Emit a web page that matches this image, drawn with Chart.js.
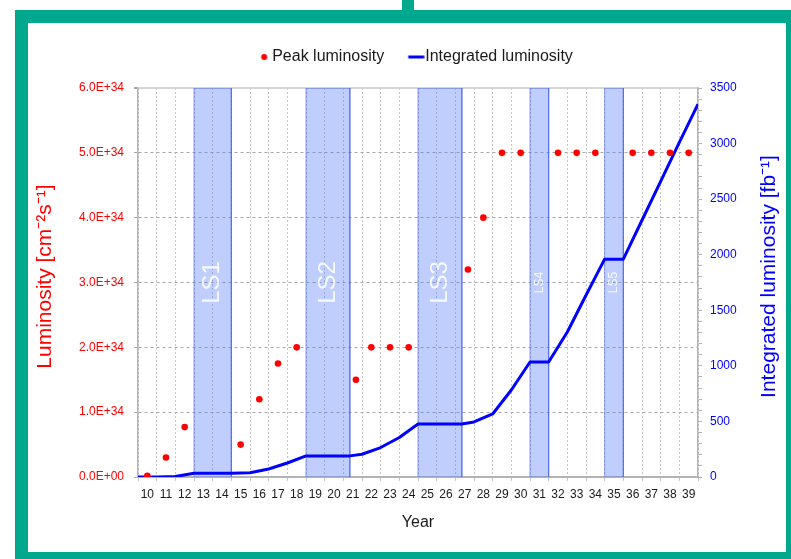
<!DOCTYPE html>
<html>
<head>
<meta charset="utf-8">
<title>LHC luminosity</title>
<script src="https://cdn.jsdelivr.net/npm/chart.js@4.4.1/dist/chart.umd.min.js"></script>
<style>
  html, body { margin: 0; padding: 0; background: #ffffff; }
  body { width: 791px; height: 559px; position: relative; overflow: hidden; }
  #frame { position: absolute; left: 15px; top: 10px; width: 776px; height: 549px; background: #00a98e; }
  #tab { position: absolute; left: 402px; top: 0; width: 12px; height: 10px; background: #00a98e; }
  #panel { position: absolute; left: 28px; top: 23px; width: 758px; height: 529px; background: #ffffff; }
  canvas { display: block; }
</style>
</head>
<body>
<div id="frame"></div>
<div id="tab"></div>
<div id="panel"><canvas id="lumi" width="758" height="529"></canvas></div>
<script>
// ---- data -------------------------------------------------------------
// Years 2010 ... 2039 (shown as two digits on the axis)
const years = [10, 11, 12, 13, 14, 15, 16, 17, 18, 19, 20, 21, 22, 23, 24,
               25, 26, 27, 28, 29, 30, 31, 32, 33, 34, 35, 36, 37, 38, 39];

// Peak luminosity per year [cm^-2 s^-1]; null = no beam (long shutdown)
const peakLuminosity = [0.02e34, 0.30e34, 0.77e34, null, null, 0.50e34, 1.20e34, 1.75e34, 2.00e34, null,
                        null, 1.50e34, 2.00e34, 2.00e34, 2.00e34, null, null, 3.20e34, 4.00e34, 5.00e34,
                        5.00e34, null, 5.00e34, 5.00e34, 5.00e34, null, 5.00e34, 5.00e34, 5.00e34, 5.00e34];

// Integrated luminosity [fb^-1] at the given time (in years, 10 = start of 2010)
const integratedTime = [10, 11, 12, 13, 15, 16, 17, 18, 19, 21.35, 22, 23, 24, 25,
                        27.35, 28, 29, 30, 31, 32, 33, 34, 35, 36, 37, 38, 39, 40];
const integratedLuminosity = [0, 1, 5, 33, 33, 38, 72, 126, 190, 190, 205, 265, 355, 477,
                              477, 495, 567, 783, 1035, 1035, 1305, 1635, 1960, 1960, 2310, 2660, 3010, 3355];

// Long shutdowns (start / end time in years)
const shutdownNames = ['LS1', 'LS2', 'LS3', 'LS4', 'LS5'];
const shutdownStart = [13, 19, 25, 31, 35];
const shutdownEnd   = [15, 21.35, 27.35, 32, 36];

// Axis ticks
const peakTicks = [0, 1e34, 2e34, 3e34, 4e34, 5e34, 6e34];
const integratedMax = 3500;
const integratedMinorStep = 100;
const integratedLabelStep = 500;

// Axis titles
const peakTitle = 'Luminosity [cm⁻²s⁻¹]';
const integratedTitle = 'Integrated luminosity [fb⁻¹]';

// ---- layout & style ---------------------------------------------------
const CANVAS_W = 758, CANVAS_H = 529;
const PAD_LEFT = 6;
const LEFT_W = 104, RIGHT_W = 88, X_AXIS_H = 75;
const LEGEND_TOP = 10, LEGEND_H = 55;
const TITLE_SIZE = 21, TITLE_INSET = 17, TITLE_RAISE = 6;
const FONT = "'Liberation Sans', Arial, sans-serif";
const INK = '#1a1a1a';
const RED = '#ff0000';
const BLUE = '#0000ff';
const AXIS_GREY = '#b3b3b3';

Chart.defaults.font.family = FONT;

const tMin = years[0];
const tMax = years[years.length - 1] + 1;
const halfYearPx = (CANVAS_W - PAD_LEFT - LEFT_W - RIGHT_W) / years.length / 2;

// mid point of the running part of a year (skips the shutdown part)
function runMidpoint(year) {
  let from = year, to = year + 1;
  shutdownStart.forEach((s, i) => {
    const e = shutdownEnd[i];
    if (e > from && e < to) from = e;
    if (s > from && s < to) to = s;
  });
  return (from + to) / 2;
}

const peakPoints = [];
years.forEach((y, i) => {
  if (peakLuminosity[i] !== null) peakPoints.push({ x: runMidpoint(y), y: peakLuminosity[i] });
});
const integratedPoints = integratedTime.map((t, i) => ({ x: t, y: integratedLuminosity[i] }));

const integratedTicks = [];
for (let v = 0; v <= integratedMax; v += integratedMinorStep) integratedTicks.push(v);

// legend markers
function legendMarker(draw) {
  const c = document.createElement('canvas');
  c.width = 32; c.height = 10;
  draw(c.getContext('2d'));
  return c;
}
const markers = {
  'Peak luminosity': legendMarker(g => {
    g.fillStyle = RED; g.beginPath(); g.arc(24.5, 5, 3, 0, Math.PI * 2); g.fill();
  }),
  'Integrated luminosity': legendMarker(g => {
    g.strokeStyle = BLUE; g.lineWidth = 3; g.beginPath(); g.moveTo(15.5, 5); g.lineTo(31.5, 5); g.stroke();
  })
};

const shutdownDatasets = shutdownNames.map((name, i) => ({
  type: 'line',
  label: name,
  yAxisID: 'y2',
  order: 3,
  data: [
    { x: shutdownStart[i], y: 0 },
    { x: shutdownStart[i], y: integratedMax },
    { x: shutdownEnd[i], y: integratedMax },
    { x: shutdownEnd[i], y: 0 }
  ],
  borderColor: 'rgba(70, 100, 235, 0.6)',
  borderWidth: 1,
  backgroundColor: 'rgba(90, 125, 250, 0.38)',
  fill: 'origin',
  pointRadius: 0,
  tension: 0
}));

function drawVerticalText(ctx, text, x, y, size, color) {
  ctx.save();
  ctx.translate(x, y);
  ctx.rotate(-Math.PI / 2);
  ctx.font = size + 'px ' + FONT;
  ctx.fillStyle = color;
  ctx.textAlign = 'center';
  ctx.textBaseline = 'middle';
  ctx.fillText(text, 0, 0);
  ctx.restore();
}

// shutdown names and the two vertical axis titles
const annotations = {
  id: 'annotations',
  beforeLayout(chart) {
    const lg = chart.legend;
    if (lg && !lg._fixedHeight) {
      const fit = lg.fit;
      lg.fit = function () { fit.call(this); this.height = LEGEND_H; };
      lg._fixedHeight = true;
    }
  },
  afterDatasetsDraw(chart) {
    const { ctx, chartArea, scales } = chart;
    const yc = (chartArea.top + chartArea.bottom) / 2;
    shutdownNames.forEach((name, i) => {
      const xc = scales.x.getPixelForValue((shutdownStart[i] + shutdownEnd[i]) / 2);
      const size = shutdownEnd[i] - shutdownStart[i] >= 2 ? 24 : 12;
      drawVerticalText(ctx, name, xc, yc, size, 'rgba(255, 255, 255, 0.88)');
    });
  },
  afterDraw(chart) {
    const { ctx, chartArea, width } = chart;
    const yc = (chartArea.top + chartArea.bottom) / 2 - TITLE_RAISE;
    drawVerticalText(ctx, peakTitle, TITLE_INSET, yc, TITLE_SIZE, RED);
    drawVerticalText(ctx, integratedTitle, width - TITLE_INSET, yc, TITLE_SIZE, BLUE);
  }
};

new Chart(document.getElementById('lumi'), {
  type: 'line',
  data: {
    datasets: [
      {
        type: 'line',
        label: 'Peak luminosity',
        yAxisID: 'y',
        order: 0,
        showLine: false,
        data: peakPoints,
        pointRadius: 3.3,
        pointBorderWidth: 0,
        pointBackgroundColor: RED,
        backgroundColor: RED,
        borderColor: RED
      },
      {
        type: 'line',
        label: 'Integrated luminosity',
        yAxisID: 'y2',
        order: 1,
        data: integratedPoints,
        borderColor: BLUE,
        backgroundColor: BLUE,
        borderWidth: 3,
        borderJoinStyle: 'round',
        pointRadius: 0,
        tension: 0,
        fill: false
      },
      ...shutdownDatasets
    ]
  },
  options: {
    responsive: false,
    animation: false,
    devicePixelRatio: 1,
    events: [],
    layout: { padding: { top: LEGEND_TOP, left: PAD_LEFT, right: 0, bottom: 0 } },
    plugins: {
      tooltip: { enabled: false },
      legend: {
        position: 'top',
        align: 'center',
        labels: {
          usePointStyle: true,
          pointStyleWidth: 17,
          padding: 16,
          color: INK,
          font: { size: 16 },
          generateLabels(chart) {
            const items = Chart.defaults.plugins.legend.labels.generateLabels(chart);
            return items
              .filter(it => markers[it.text])
              .map(it => Object.assign(it, { pointStyle: markers[it.text] }));
          }
        }
      }
    },
    scales: {
      x: {
        type: 'linear',
        position: 'bottom',
        min: tMin,
        max: tMax,
        afterFit(s) { s.height = X_AXIS_H; },
        afterBuildTicks(s) { s.ticks = years.concat([tMax]).map(v => ({ value: v })); },
        ticks: {
          autoSkip: false,
          minRotation: 0,
          maxRotation: 0,
          labelOffset: halfYearPx,
          padding: 6,
          color: INK,
          font: { size: 12 },
          callback: v => (years.includes(v) ? String(v) : '')
        },
        grid: { color: '#c6c6c6', tickColor: '#c6c6c6', tickLength: 4, lineWidth: 1 },
        border: { color: AXIS_GREY, width: 1.5, dash: [2, 2] },
        title: {
          display: true,
          text: 'Year',
          color: INK,
          font: { size: 16 },
          padding: { top: 0, bottom: 20 }
        }
      },
      y: {
        type: 'linear',
        position: 'left',
        min: peakTicks[0],
        max: peakTicks[peakTicks.length - 1],
        afterFit(s) { s.width = LEFT_W; },
        afterBuildTicks(s) { s.ticks = peakTicks.map(v => ({ value: v })); },
        ticks: {
          color: RED,
          font: { size: 12 },
          padding: 10,
          callback: v => (v === 0 ? '0.0E+00' : v.toExponential(1).toUpperCase())
        },
        grid: {
          color: c => (c.tick && c.tick.value === peakTicks[peakTicks.length - 1] ? '#d6d6d6'
                      : c.tick && c.tick.value === 0 ? AXIS_GREY : '#a6a6a6'),
          lineWidth: c => (c.tick && c.tick.value === peakTicks[peakTicks.length - 1] ? 2 : 1),
          tickColor: '#a6a6a6',
          tickLength: 4
        },
        border: {
          color: AXIS_GREY,
          width: 1.5,
          dash: c => (c.tick && c.tick.value > 0 && c.tick.value < peakTicks[peakTicks.length - 1] ? [3, 3] : [])
        }
      },
      y2: {
        type: 'linear',
        position: 'right',
        min: 0,
        max: integratedMax,
        afterFit(s) { s.width = RIGHT_W; },
        afterBuildTicks(s) { s.ticks = integratedTicks.map(v => ({ value: v })); },
        ticks: {
          autoSkip: false,
          color: BLUE,
          font: { size: 12 },
          padding: 8,
          callback: v => (v % integratedLabelStep === 0 ? String(v) : '')
        },
        grid: { drawOnChartArea: false, color: AXIS_GREY, tickColor: AXIS_GREY, tickLength: 4 },
        border: { color: AXIS_GREY, width: 1.5 }
      }
    }
  },
  plugins: [annotations]
});
</script>
</body>
</html>
